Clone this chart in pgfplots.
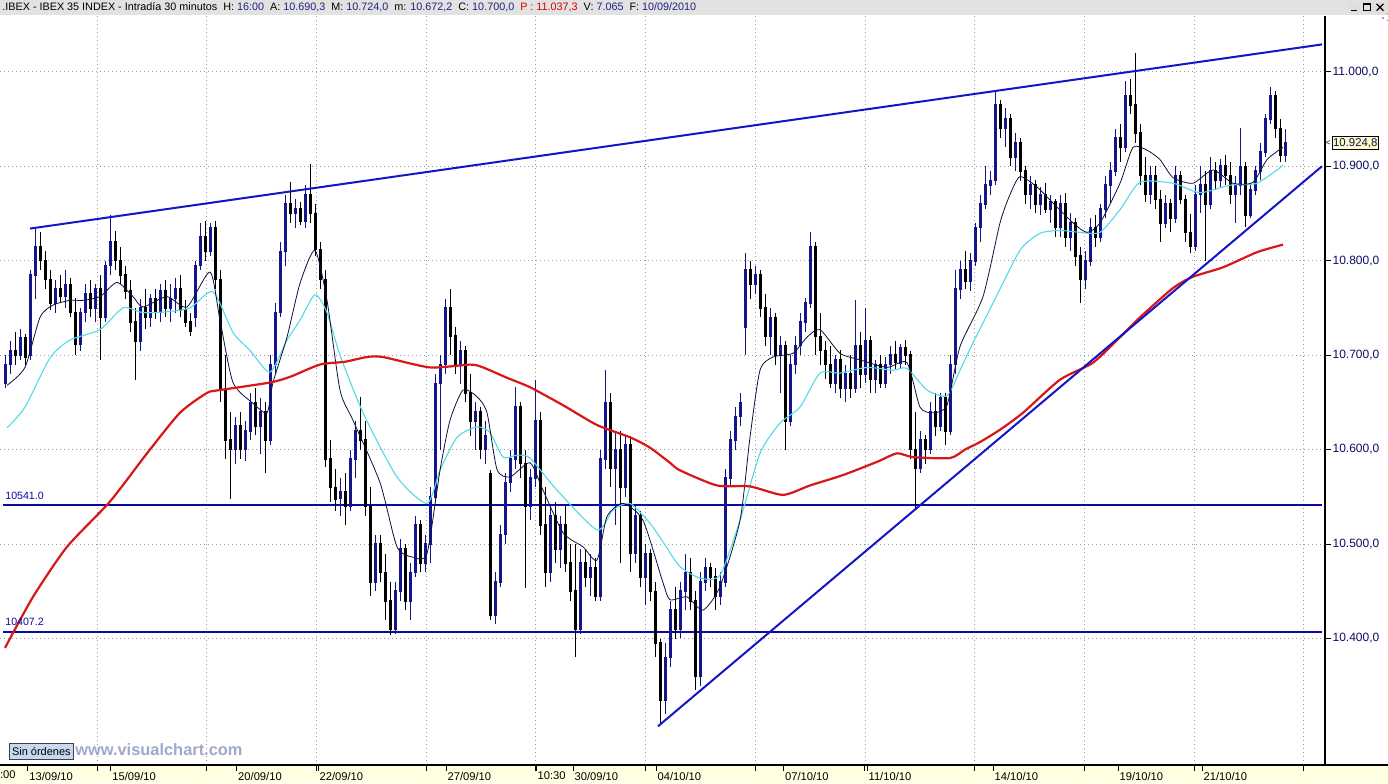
\documentclass[border=0pt]{standalone}
\usepackage{fontspec}
\setmainfont{Liberation Sans}
\usepackage{pgfplots}
\usepackage{pgfplotstable}
\pgfplotsset{compat=1.18}

\definecolor{upc}{HTML}{15158A}
\definecolor{downc}{HTML}{000000}
\definecolor{trendc}{HTML}{1414C8}
\definecolor{hlinec}{HTML}{0A0AA0}
\definecolor{mared}{HTML}{D81818}
\definecolor{macyan}{HTML}{50DCE6}
\definecolor{mablack}{HTML}{101040}
\definecolor{titlebg}{HTML}{E2E2E2}
\definecolor{stripbg}{HTML}{FFFFE1}
\definecolor{labnavy}{HTML}{0C0C64}
\definecolor{valc}{HTML}{202080}
\definecolor{webc}{HTML}{A0A8CC}
\definecolor{btnc}{HTML}{C8D8F0}

\pgfplotstableread{
x o h l c
5 10670 10700 10665 10690
10 10690 10715 10680 10705
15 10705 10725 10690 10700
20 10700 10728 10695 10718
25 10718 10722 10690 10698
30 10700 10790 10695 10785
35 10785 10835 10760 10815
40 10815 10830 10790 10800
45 10800 10810 10770 10780
50 10780 10790 10748 10755
55 10755 10780 10745 10770
60 10770 10785 10755 10762
65 10762 10790 10750 10775
70 10775 10782 10740 10745
75 10745 10760 10700 10712
80 10712 10750 10705 10745
85 10745 10775 10735 10765
90 10765 10780 10740 10750
95 10750 10775 10735 10770
100 10770 10785 10695 10740
105 10740 10800 10735 10795
110 10795 10848 10785 10820
115 10820 10832 10790 10800
120 10800 10815 10775 10785
125 10785 10795 10760 10768
130 10768 10780 10725 10735
135 10735 10750 10674 10715
140 10715 10760 10705 10750
145 10750 10770 10728 10740
150 10740 10765 10730 10760
155 10760 10770 10738 10745
160 10745 10775 10735 10768
165 10768 10780 10740 10750
170 10750 10775 10735 10760
175 10760 10782 10745 10770
180 10770 10785 10740 10748
185 10748 10758 10730 10735
190 10735 10745 10720 10725
195 10740 10800 10730 10795
200 10795 10840 10790 10825
205 10825 10842 10800 10810
210 10810 10840 10805 10835
215 10835 10842 10770 10780
220 10780 10790 10650 10665
225 10665 10700 10590 10610
230 10610 10640 10548 10600
235 10600 10635 10585 10625
240 10625 10640 10590 10600
245 10600 10630 10588 10620
250 10620 10660 10610 10650
255 10650 10665 10615 10625
260 10625 10655 10595 10640
265 10640 10650 10575 10610
270 10610 10700 10605 10690
275 10690 10755 10680 10745
280 10745 10820 10740 10810
285 10810 10870 10795 10860
290 10860 10883 10840 10850
295 10850 10865 10835 10855
300 10855 10862 10838 10842
305 10842 10880 10835 10870
310 10870 10902 10840 10850
315 10850 10860 10805 10812
320 10812 10820 10770 10780
325 10780 10790 10582 10590
330 10590 10610 10545 10560
335 10560 10580 10535 10548
340 10548 10570 10530 10555
345 10555 10575 10520 10540
350 10540 10600 10535 10590
355 10590 10630 10570 10620
360 10620 10656 10600 10610
365 10610 10630 10530 10540
370 10540 10560 10445 10460
375 10460 10510 10450 10500
380 10500 10510 10460 10470
385 10470 10490 10420 10440
390 10440 10460 10404 10410
395 10410 10460 10405 10450
400 10450 10505 10440 10495
405 10495 10500 10430 10440
410 10440 10480 10420 10470
415 10470 10530 10465 10520
420 10520 10525 10470 10480
425 10480 10510 10470 10500
430 10500 10560 10480 10550
435 10550 10680 10545 10670
440 10670 10700 10600 10690
445 10690 10760 10680 10750
450 10750 10770 10700 10720
455 10720 10730 10680 10690
460 10690 10715 10670 10705
465 10705 10710 10650 10660
470 10660 10680 10615 10630
475 10630 10650 10600 10640
480 10640 10645 10590 10600
485 10600 10630 10585 10615
490 10575 10578 10420 10425
495 10425 10470 10415 10460
500 10460 10520 10455 10510
505 10510 10575 10500 10565
510 10565 10600 10555 10590
515 10590 10666 10580 10645
520 10645 10650 10570 10585
525 10585 10600 10454 10540
530 10540 10580 10525 10570
535 10570 10674 10560 10630
540 10630 10640 10510 10520
545 10520 10560 10455 10470
550 10470 10540 10460 10530
555 10530 10545 10480 10495
560 10495 10530 10475 10520
565 10520 10540 10470 10480
570 10480 10500 10440 10450
575 10450 10500 10380 10410
580 10410 10495 10405 10480
585 10480 10495 10455 10465
590 10465 10490 10445 10475
595 10475 10485 10440 10445
600 10445 10600 10440 10590
605 10590 10684 10580 10650
610 10650 10660 10560 10580
615 10580 10620 10520 10600
620 10600 10620 10480 10560
625 10560 10615 10550 10605
630 10605 10615 10470 10490
635 10490 10540 10480 10530
640 10530 10535 10455 10465
645 10465 10500 10435 10490
650 10490 10495 10440 10450
655 10450 10460 10380 10395
660 10395 10400 10310 10335
665 10335 10395 10320 10380
670 10380 10440 10370 10430
675 10430 10455 10400 10410
680 10410 10460 10400 10450
685 10450 10490 10430 10470
690 10470 10485 10430 10440
695 10440 10450 10345 10360
700 10360 10470 10350 10460
705 10460 10485 10450 10475
710 10475 10480 10455 10465
715 10465 10475 10430 10445
720 10445 10470 10435 10460
725 10460 10580 10455 10570
730 10570 10620 10560 10610
735 10610 10645 10600 10635
740 10635 10660 10625 10650
745 10730 10808 10700 10790
750 10790 10800 10760 10775
755 10775 10795 10765 10785
760 10785 10790 10740 10750
765 10750 10765 10710 10720
770 10720 10750 10700 10740
775 10740 10745 10690 10700
780 10700 10720 10660 10710
785 10710 10715 10600 10630
790 10630 10700 10625 10690
795 10690 10720 10680 10710
800 10710 10745 10700 10735
805 10735 10760 10725 10755
810 10755 10830 10750 10815
815 10815 10820 10700 10720
820 10720 10745 10690 10705
825 10705 10715 10675 10690
830 10690 10710 10665 10670
835 10670 10700 10660 10695
840 10695 10705 10655 10665
845 10665 10690 10650 10680
850 10680 10700 10655 10665
855 10665 10758 10660 10710
860 10710 10725 10665 10680
865 10680 10750 10670 10715
870 10715 10720 10660 10675
875 10675 10695 10660 10690
880 10690 10700 10665 10670
885 10670 10698 10665 10690
890 10690 10710 10680 10700
895 10700 10715 10685 10692
900 10692 10712 10686 10708
905 10708 10716 10690 10700
910 10700 10705 10590 10600
915 10600 10640 10536 10580
920 10580 10620 10575 10610
925 10610 10615 10585 10600
930 10600 10650 10595 10640
935 10640 10660 10615 10625
940 10625 10660 10620 10655
945 10655 10660 10605 10620
950 10620 10700 10615 10690
955 10690 10790 10680 10770
960 10770 10800 10760 10790
965 10790 10810 10770 10778
970 10778 10808 10768 10800
975 10800 10840 10795 10835
980 10835 10870 10820 10860
985 10860 10900 10855 10880
990 10880 10895 10870 10885
995 10885 10979 10880 10965
1000 10965 10970 10930 10940
1005 10940 10962 10920 10950
1010 10950 10955 10900 10910
1015 10910 10935 10895 10925
1020 10925 10930 10885 10895
1025 10895 10900 10860 10870
1030 10870 10890 10855 10880
1035 10880 10885 10850 10860
1040 10860 10878 10848 10870
1045 10870 10882 10850 10855
1050 10855 10870 10840 10862
1055 10862 10865 10825 10835
1060 10835 10870 10825 10860
1065 10860 10872 10815 10825
1070 10825 10850 10810 10840
1075 10840 10845 10795 10805
1080 10805 10815 10755 10780
1085 10780 10810 10770 10800
1090 10800 10845 10795 10835
1095 10835 10848 10815 10825
1100 10825 10860 10820 10855
1105 10855 10890 10845 10880
1110 10880 10905 10860 10895
1115 10895 10940 10890 10930
1120 10930 10945 10905 10920
1125 10920 10990 10915 10975
1130 10975 10992 10955 10965
1135 10965 11020 10925 10935
1140 10935 10945 10880 10890
1145 10890 10910 10862 10870
1150 10870 10900 10860 10890
1155 10890 10900 10855 10865
1160 10865 10875 10820 10840
1165 10840 10870 10835 10860
1170 10860 10865 10830 10845
1175 10845 10900 10840 10890
1180 10890 10895 10860 10865
1185 10865 10870 10820 10830
1190 10830 10850 10808 10815
1195 10815 10880 10810 10870
1200 10870 10900 10850 10880
1205 10880 10895 10800 10860
1210 10860 10910 10855 10895
1215 10895 10905 10875 10885
1220 10885 10908 10878 10900
1225 10900 10912 10880 10890
1230 10890 10905 10860 10870
1235 10870 10890 10840 10880
1240 10880 10940 10870 10900
1245 10900 10905 10836 10848
1250 10848 10880 10845 10875
1255 10875 10900 10870 10895
1260 10895 10925 10885 10915
1265 10915 10955 10910 10950
1270 10950 10984 10945 10975
1275 10975 10980 10930 10940
1280 10940 10950 10905 10912
1285 10912 10940 10905 10925
}\candles

\pgfplotstableread{
x p
5 10390
33 10444
67 10497
110 10545
147 10596
180 10639
207 10660
220 10663
270 10671
290 10677
320 10690
345 10693
367 10698
383 10698
430 10687
470 10690
483 10687
507 10676
530 10666
563 10647
597 10626
630 10613
650 10602
670 10586
680 10578
717 10562
750 10561
783 10552
810 10562
843 10573
877 10587
897 10596
913 10592
950 10591
965 10600
980 10608
1000 10621
1023 10639
1060 10674
1093 10692
1120 10719
1140 10740
1173 10771
1193 10783
1223 10793
1257 10809
1283 10817
}\mared

\pgfplotstableread{
x p
7 10623
25 10645
50 10697
70 10716
100 10727
123 10750
143 10745
167 10746
190 10750
213 10767
233 10724
250 10705
270 10682
287 10716
300 10737
315 10764
327 10745
340 10700
363 10639
397 10571
427 10543
440 10578
457 10613
477 10624
490 10618
503 10592
517 10594
530 10591
557 10557
597 10515
613 10536
630 10543
650 10522
665 10499
680 10476
700 10464
720 10467
740 10525
760 10596
780 10628
800 10645
820 10681
840 10681
867 10687
893 10684
907 10686
927 10663
947 10657
960 10684
973 10713
993 10755
1020 10811
1040 10829
1060 10832
1080 10830
1100 10830
1120 10854
1140 10883
1173 10882
1200 10872
1230 10880
1257 10882
1283 10901
}\macyan

\pgfplotstableread{
x p
7 10668
25 10687
40 10740
53 10753
70 10758
83 10758
100 10762
117 10777
133 10762
143 10751
167 10762
187 10751
210 10788
220 10737
233 10671
253 10649
267 10639
273 10671
287 10719
300 10776
315 10811
327 10758
340 10663
353 10631
380 10565
397 10497
413 10486
427 10490
440 10578
450 10631
463 10663
477 10656
487 10639
497 10579
510 10571
530 10586
543 10557
563 10512
583 10497
597 10483
607 10529
623 10543
643 10525
663 10459
670 10441
687 10444
703 10430
720 10455
740 10525
750 10613
760 10684
773 10698
793 10702
807 10719
820 10727
840 10702
860 10695
887 10687
907 10692
920 10645
933 10639
947 10647
960 10709
983 10762
1000 10840
1010 10870
1020 10889
1037 10878
1053 10861
1073 10840
1087 10830
1100 10840
1120 10882
1133 10920
1147 10917
1160 10907
1173 10888
1193 10882
1213 10896
1233 10882
1253 10883
1267 10907
1283 10920
}\mablack

\begin{document}
\begin{tikzpicture}
\useasboundingbox (0,0) rectangle (694pt,391.5pt);
\fill[white] (0,0) rectangle (694pt,391.5pt);
\fill[titlebg] (0,384pt) rectangle (694pt,391.5pt);
\fill[stripbg] (0,0) rectangle (694pt,9pt);

\begin{axis}[
  at={(0pt,9pt)}, anchor=south west,
  scale only axis, width=662.5pt, height=374.5pt,
  xmin=0, xmax=1325, ymin=10266.0, ymax=11059.1,
  axis x line=bottom, axis y line=right,
  axis line style={-, black, line width=0.6pt},
  clip mode=individual,
  tick align=outside,
  major tick length=3pt,
  tick style={black, line width=0.5pt},
  xtick={97,206.7,316.4,426.1,535.8,645.5,755.2,864.9,974.6,1084.3,1194,1303.7},
  xticklabels={,,,,,,,,,,,},
  extra x ticks={27.7,110.7,236.6,318,446,536,573,656,783.5,867,993,1118,1202},
  extra x tick labels={13/09/10,15/09/10,20/09/10,22/09/10,27/09/10,10:30,30/09/10,04/10/10,07/10/10,11/10/10,14/10/10,19/10/10,21/10/10},
  extra x tick style={grid=none},
  xticklabel style={anchor=north west, inner sep=0pt, xshift=0.6pt, yshift=-0.3pt, font=\fontsize{5.6}{6}\selectfont},
  ytick={10400,10500,10600,10700,10800,10900,11000},
  yticklabels={{10.400,0},{10.500,0},{10.600,0},{10.700,0},{10.800,0},{10.900,0},{11.000,0}},
  yticklabel style={anchor=west, inner sep=0pt, xshift=0.6pt, text=labnavy, font=\fontsize{6}{7}\selectfont},
  xmajorgrids, ymajorgrids,
  major grid style={draw=gray!80, line width=0.4pt, dash pattern=on 0.5pt off 1.5pt},
  candle/.style={only marks, mark size=0pt, mark options={draw=none, fill=none}, forget plot},
]
% horizontal levels
\addplot[hlinec, line width=0.9pt, forget plot] coordinates {(3,10541) (1322,10541)};
\addplot[hlinec, line width=0.9pt, forget plot] coordinates {(3,10407.2) (1322,10407.2)};
% candles up
\addplot[candle, restrict expr to domain={\thisrow{c}-\thisrow{o}}{0:2000},
  error bars/.cd, y dir=both, y explicit, error mark=none,
  error bar style={draw=upc, line width=0.45pt, solid}]
  table[x=x, y expr={(\thisrow{h}+\thisrow{l})/2}, y error expr={(\thisrow{h}-\thisrow{l})/2}] {\candles};
\addplot[candle, restrict expr to domain={\thisrow{c}-\thisrow{o}}{0:2000},
  error bars/.cd, y dir=both, y explicit, error mark=none,
  error bar style={draw=upc, line width=1.5pt, solid}]
  table[x=x, y expr={(\thisrow{o}+\thisrow{c})/2}, y error expr={abs(\thisrow{c}-\thisrow{o})/2+0.8}] {\candles};
% candles down
\addplot[candle, restrict expr to domain={\thisrow{c}-\thisrow{o}}{-2000:-0.5},
  error bars/.cd, y dir=both, y explicit, error mark=none,
  error bar style={draw=downc, line width=0.45pt, solid}]
  table[x=x, y expr={(\thisrow{h}+\thisrow{l})/2}, y error expr={(\thisrow{h}-\thisrow{l})/2}] {\candles};
\addplot[candle, restrict expr to domain={\thisrow{c}-\thisrow{o}}{-2000:-0.5},
  error bars/.cd, y dir=both, y explicit, error mark=none,
  error bar style={draw=downc, line width=1.5pt, solid}]
  table[x=x, y expr={(\thisrow{o}+\thisrow{c})/2}, y error expr={abs(\thisrow{c}-\thisrow{o})/2+0.8}] {\candles};
% moving averages
\addplot[macyan, line width=0.55pt, smooth, tension=0.4, forget plot] table[x=x, y=p] {\macyan};
\addplot[mablack, line width=0.4pt, smooth, tension=0.4, forget plot] table[x=x, y=p] {\mablack};
\addplot[mared, line width=1.1pt, smooth, tension=0.4, forget plot] table[x=x, y=p] {\mared};
% trend lines
\addplot[trendc, line width=1pt, forget plot] coordinates {(30,10834) (1322,11029)};
\addplot[trendc, line width=1pt, forget plot] coordinates {(658,10307) (1322,10900)};
% level labels
\node[anchor=south west, inner sep=0pt, text=hlinec, font=\fontsize{5.3}{6}\selectfont] at (axis cs:5,10547) {10541.0};
\node[anchor=south west, inner sep=0pt, text=hlinec, font=\fontsize{5.3}{6}\selectfont] at (axis cs:5,10413) {10407.2};
% current price
\node[anchor=west, draw=black, line width=0.4pt, fill=yellow!22, inner xsep=0.6pt, inner ysep=1pt, text=labnavy, font=\fontsize{5.7}{7}\selectfont] at (axis cs:1331.5,10924.8) {10.924,8};
\node[anchor=east, inner sep=0pt, font=\fontsize{4}{5}\selectfont] at (axis cs:1331,10924.8) {<};
\end{axis}

\draw[black, line width=0.6pt] (0,9pt) -- (694pt,9pt);
\node[anchor=west, inner sep=0pt, font=\fontsize{5.6}{6}\selectfont] at (-6.4pt,4.2pt) {10:00};

% title
\node[anchor=west, inner sep=0pt, font=\fontsize{5.4}{6}\selectfont] at (1pt,387.8pt)
 {.IBEX - IBEX 35 INDEX - Intradía 30 minutos\ \ H: \textcolor{valc}{16:00}\ \ A: \textcolor{valc}{10.690,3}\ \ M: \textcolor{valc}{10.724,0}\ \ m: \textcolor{valc}{10.672,2}\ \ C: \textcolor{valc}{10.700,0}\ \ \textcolor{red!85!black}{P : 11.037,3}\ \ V: \textcolor{valc}{7.065}\ \ F: \textcolor{valc}{10/09/2010}};
% window buttons
\foreach \bx in {674,680.5,687} {
  \fill[gray!25] (\bx pt,385.2pt) rectangle ++(6pt,5.4pt);
}
\draw[black, line width=0.6pt] (675.5pt,386.3pt) -- (678.5pt,386.3pt);
\draw[black, line width=0.4pt] (681.8pt,386.2pt) rectangle (685.2pt,389.6pt);
\draw[black, line width=0.5pt] (681.8pt,389.1pt) -- (685.2pt,389.1pt);
\draw[black, line width=0.6pt] (688.3pt,386.2pt) -- (691.7pt,389.6pt) (688.3pt,389.6pt) -- (691.7pt,386.2pt);

% footer badges
\node[anchor=west, draw=black!75, fill=btnc, line width=0.4pt, inner xsep=1.3pt, inner ysep=2pt, font=\fontsize{5.5}{6}\selectfont] at (4.5pt,15.8pt) {Sin órdenes};
\node[anchor=west, inner sep=0pt, text=webc, font=\bfseries\fontsize{8.2}{9}\selectfont] at (37.5pt,16.6pt) {www.visualchart.com};
\end{tikzpicture}
\end{document}
